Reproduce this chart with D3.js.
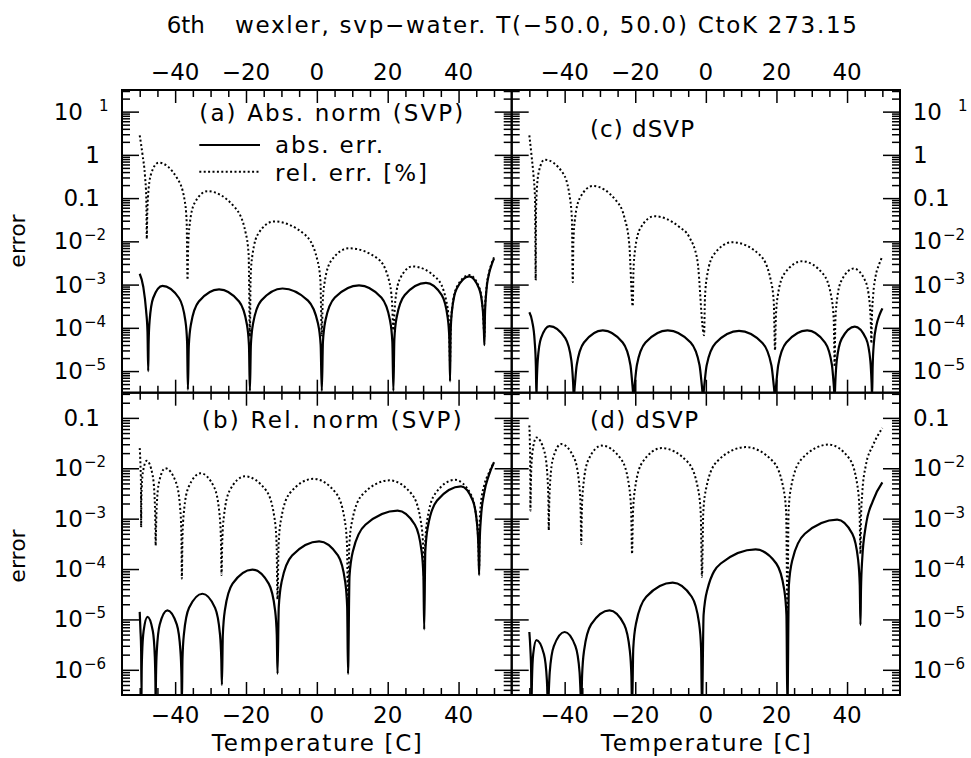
<!DOCTYPE html>
<html>
<head>
<meta charset="utf-8">
<script src="https://cdn.jsdelivr.net/npm/d3@7"></script>
<style>
  body { margin: 0; background: #fff; }
  text { font-family: "DejaVu Sans", sans-serif; fill: #000; }
</style>
</head>
<body>
<div id="chart"></div>
<script>
"use strict";

// === TICKS / LABELS ===
const tempMajor = [-40, -20, 0, 20, 40];
const tempMinor = [-50, -45, -35, -30, -25, -15, -10, -5, 5, 10, 15, 25, 30, 35, 45, 50];
const upperDecades = [1, 0, -1, -2, -3, -4, -5];   // exponents, panels a & c
const lowerDecades = [-1, -2, -3, -4, -5, -6];     // exponents, panels b & d

// === DATA: [temperature C, log10(error)] ===
// (a) Abs. norm (SVP)
const absA = [
  [-50,-2.75],[-49,-3.05],[-48.2,-3.6],[-47.8,-4.1],[-47.6,-5.0],
  [-47.48,-4.33],[-47.2,-3.83],[-46.2,-3.31],[-43.6,-3.03],[-38.92,-3.31],[-37.12,-3.83],[-36.62,-4.33],[-36.4,-5.43],
  [-36.14,-4.41],[-35.52,-3.91],[-33.32,-3.39],[-27.6,-3.11],[-21.95,-3.39],[-19.77,-3.91],[-19.16,-4.41],[-18.9,-5.46],
  [-18.62,-4.39],[-17.98,-3.89],[-15.68,-3.37],[-9.7,-3.09],[-2.49,-3.37],[0.29,-3.89],[1.07,-4.39],[1.4,-5.46],
  [1.72,-4.32],[2.45,-3.82],[5.08,-3.3],[11.9,-3.02],[18.2,-3.3],[20.63,-3.82],[21.31,-4.32],[21.6,-5.46],
  [21.88,-4.26],[22.52,-3.76],[24.82,-3.24],[30.8,-2.96],[35.22,-3.24],[36.92,-3.76],[37.4,-4.26],[37.6,-5.24],
  [37.76,-4.11],[38.14,-3.61],[39.49,-3.09],[43.0,-2.81],[45.8,-3.09],[46.87,-3.61],[47.17,-4.11],[47.3,-4.4],
  [47.45,-3.7],[47.8,-3.2],[48.6,-2.75],[49.3,-2.55],[50,-2.4]
];
const relA = [
  [-50,0.45],[-49.2,0.0],[-48.5,-0.5],[-48.15,-1.0],[-48.0,-1.94],
  [-47.9,-1.48],[-47.67,-0.98],[-46.85,-0.46],[-44.7,-0.18],[-39.37,-0.55],[-37.32,-1.05],[-36.75,-1.55],[-36.5,-2.89],
  [-36.33,-2.14],[-35.94,-1.64],[-34.54,-1.12],[-30.9,-0.84],[-23.1,-1.22],[-20.1,-1.8],[-19.26,-2.3],[-18.9,-4.2],
  [-18.7,-2.84],[-18.22,-2.34],[-16.52,-1.82],[-12.1,-1.54],[-3.33,-1.85],[0.05,-2.4],[1.0,-2.9],[1.4,-4.2],
  [1.63,-3.46],[2.17,-2.96],[4.1,-2.44],[9.1,-2.16],[17.2,-2.4],[20.35,-2.9],[21.22,-3.4],[21.6,-4.06],
  [21.76,-3.88],[22.14,-3.38],[23.49,-2.86],[27.0,-2.58],[33.9,-2.86],[36.54,-3.38],[37.28,-3.88],[37.6,-4.8],
  [37.76,-4.08],[38.14,-3.58],[39.49,-3.06],[43.0,-2.78],[45.8,-3.06],[46.87,-3.58],[47.17,-4.08],[47.3,-4.2],
  [47.45,-3.6],[47.8,-3.15],[48.6,-2.72],[49.3,-2.52],[50,-2.37]
];
// (b) Rel. norm (SVP)
const absB = [
  [-50,-4.85],[-49.8,-5.2],[-49.6,-5.6],[-49.5,-6.5],
  [-49.45,-6.1],[-49.33,-5.7],[-48.9,-5.23],[-47.8,-4.95],[-46.3,-5.23],[-45.73,-5.75],[-45.57,-6.25],[-45.5,-6.7],
  [-45.4,-6.12],[-45.17,-5.62],[-44.35,-5.1],[-42.2,-4.82],[-39.54,-5.1],[-38.51,-5.62],[-38.22,-6.12],[-38.1,-6.7],
  [-37.93,-5.79],[-37.52,-5.29],[-36.07,-4.77],[-32.3,-4.49],[-28.73,-4.77],[-27.35,-5.29],[-26.97,-5.79],[-26.8,-6.3],
  [-26.54,-5.31],[-25.94,-4.81],[-23.79,-4.29],[-18.2,-4.01],[-13.59,-4.29],[-11.81,-4.81],[-11.31,-5.31],[-11.1,-6.08],
  [-10.75,-4.75],[-9.93,-4.25],[-6.99,-3.73],[0.65,-3.45],[5.95,-3.73],[7.99,-4.25],[8.56,-4.75],[8.8,-6.08],
  [9.22,-4.14],[10.2,-3.64],[13.7,-3.12],[22.8,-2.84],[27.68,-3.12],[29.55,-3.64],[30.08,-4.14],[30.3,-5.2],
  [30.61,-3.66],[31.34,-3.16],[33.94,-2.64],[40.7,-2.36],[44.02,-2.64],[45.29,-3.16],[45.65,-3.66],[45.8,-4.12],
  [45.95,-3.5],[46.3,-3.0],[47.2,-2.5],[48.5,-2.15],[50,-1.88]
];
const relB = [
  [-50,-1.6],[-49.8,-1.9],[-49.65,-2.3],[-49.6,-3.17],
  [-49.55,-2.7],[-49.44,-2.4],[-49.04,-2.05],[-48.0,-1.85],[-46.38,-2.13],[-45.75,-2.65],[-45.58,-3.15],[-45.5,-3.53],
  [-45.42,-3.3],[-45.23,-2.8],[-44.56,-2.28],[-42.8,-2.0],[-39.75,-2.28],[-38.57,-2.8],[-38.24,-3.3],[-38.1,-4.19],
  [-37.94,-3.4],[-37.57,-2.9],[-36.25,-2.38],[-32.8,-2.1],[-28.97,-2.38],[-27.49,-2.9],[-27.08,-3.4],[-26.9,-4.12],
  [-26.7,-3.46],[-26.24,-2.96],[-24.59,-2.44],[-20.3,-2.16],[-14.32,-2.44],[-12.02,-2.96],[-11.38,-3.46],[-11.1,-4.6],
  [-10.8,-3.51],[-10.09,-3.01],[-7.57,-2.49],[-1.0,-2.21],[5.37,-2.49],[7.82,-3.01],[8.51,-3.51],[8.8,-4.8],
  [9.15,-3.54],[9.97,-3.04],[12.9,-2.52],[20.5,-2.24],[26.87,-2.52],[29.32,-3.04],[30.01,-3.54],[30.3,-4.3],
  [30.56,-3.53],[31.17,-3.03],[33.35,-2.51],[39.0,-2.23],[43.42,-2.51],[45.12,-3.03],[45.6,-3.53],[45.8,-4.0],
  [45.95,-3.1],[46.3,-2.7],[47.2,-2.35],[48.5,-2.1],[50,-1.88]
];
// (c) dSVP, upper
const absC = [
  [-50,-3.64],[-49.2,-3.85],[-48.5,-4.3],[-48.15,-4.9],[-48.0,-5.6],
  [-47.89,-5.26],[-47.63,-4.76],[-46.7,-4.24],[-44.3,-3.96],[-39.82,-4.24],[-38.09,-4.76],[-37.61,-5.26],[-37.4,-5.6],
  [-37.15,-5.36],[-36.58,-4.86],[-34.53,-4.34],[-29.2,-4.06],[-23.55,-4.34],[-21.37,-4.86],[-20.76,-5.36],[-20.5,-5.6],
  [-20.21,-5.36],[-19.53,-4.86],[-17.1,-4.34],[-10.8,-4.06],[-4.3,-4.34],[-1.8,-4.86],[-1.1,-5.36],[-0.8,-5.6],
  [-0.49,-5.37],[0.22,-4.87],[2.77,-4.35],[9.4,-4.07],[16.03,-4.35],[18.58,-4.87],[19.29,-5.37],[19.6,-5.6],
  [19.87,-5.36],[20.51,-4.86],[22.79,-4.34],[28.7,-4.06],[33.77,-4.34],[35.72,-4.86],[36.27,-5.36],[36.5,-5.6],
  [36.67,-5.27],[37.07,-4.77],[38.5,-4.25],[42.2,-3.97],[45.39,-4.25],[46.61,-4.77],[46.95,-5.27],[47.1,-5.6],
  [47.25,-4.9],[47.6,-4.35],[48.3,-3.95],[49.2,-3.7],[50,-3.55]
];
const relC = [
  [-50,0.45],[-49.4,0.0],[-48.8,-0.5],[-48.4,-1.0],[-48.2,-2.9],
  [-48.12,-1.41],[-47.95,-0.91],[-47.32,-0.39],[-45.7,-0.11],[-40.5,-0.42],[-38.5,-1.0],[-37.94,-1.5],[-37.7,-2.94],
  [-37.53,-2.02],[-37.13,-1.52],[-35.7,-1.0],[-32.0,-0.72],[-25.4,-1.06],[-23.1,-1.44],[-21.7,-2.06],[-20.7,-3.5],
  [-20.52,-2.72],[-20.09,-2.22],[-18.57,-1.7],[-14.6,-1.42],[-7.5,-1.67],[-4.7,-1.9],[-2.4,-2.44],[-0.5,-4.17],
  [-0.26,-3.32],[0.3,-2.82],[2.3,-2.3],[7.5,-2.02],[15.37,-2.32],[18.39,-2.9],[19.24,-3.4],[19.6,-4.52],
  [19.83,-3.76],[20.37,-3.26],[22.3,-2.74],[27.3,-2.46],[33.28,-2.76],[35.58,-3.3],[36.22,-3.8],[36.5,-4.9],
  [36.66,-3.93],[37.04,-3.43],[38.39,-2.91],[41.9,-2.63],[45.15,-2.91],[46.4,-3.43],[46.75,-3.93],[46.9,-4.36],
  [47.05,-3.75],[47.4,-3.25],[48.1,-2.8],[49.0,-2.55],[50,-2.35]
];
// (d) dSVP, lower
const absD = [
  [-50,-5.25],[-49.7,-5.6],[-49.5,-6.0],[-49.4,-6.8],
  [-49.36,-6.6],[-49.26,-6.21],[-48.91,-5.69],[-48.0,-5.41],[-45.86,-5.69],[-45.03,-6.21],[-44.8,-6.6],[-44.7,-6.8],
  [-44.56,-6.55],[-44.23,-6.05],[-43.06,-5.53],[-40.0,-5.25],[-36.95,-5.53],[-35.77,-6.05],[-35.44,-6.55],[-35.3,-6.8],
  [-35.06,-6.12],[-34.5,-5.62],[-32.5,-5.1],[-27.3,-4.82],[-23.14,-5.1],[-21.54,-5.62],[-21.09,-6.12],[-20.9,-6.8],
  [-20.56,-5.57],[-19.75,-5.07],[-16.88,-4.55],[-9.4,-4.27],[-4.0,-4.55],[-1.93,-5.07],[-1.35,-5.57],[-1.1,-6.8],
  [-0.64,-4.91],[0.42,-4.41],[4.22,-3.89],[14.1,-3.61],[19.95,-3.89],[22.2,-4.41],[22.83,-4.91],[23.1,-6.8],
  [23.52,-4.32],[24.51,-3.82],[28.04,-3.3],[37.2,-3.02],[41.49,-3.3],[43.14,-3.82],[43.6,-4.32],[43.8,-5.11],
  [43.95,-4.4],[44.3,-3.8],[45.3,-3.15],[47.3,-2.65],[50,-2.28]
];
const relD = [
  [-50,-1.15],[-49.85,-1.5],[-49.75,-2.0],[-49.7,-2.84],
  [-49.65,-2.69],[-49.53,-2.19],[-49.11,-1.67],[-48.0,-1.39],[-45.73,-1.67],[-44.85,-2.19],[-44.6,-2.69],[-44.5,-3.23],
  [-44.4,-2.82],[-44.15,-2.32],[-43.28,-1.8],[-41.0,-1.52],[-37.3,-1.8],[-35.87,-2.32],[-35.47,-2.82],[-35.3,-3.5],
  [-35.13,-2.85],[-34.72,-2.35],[-33.27,-1.83],[-29.5,-1.55],[-23.91,-1.83],[-21.76,-2.35],[-21.16,-2.85],[-20.9,-3.7],
  [-20.65,-2.9],[-20.06,-2.4],[-17.96,-1.88],[-12.5,-1.6],[-5.09,-1.88],[-2.24,-2.4],[-1.44,-2.9],[-1.1,-4.16],
  [-0.73,-2.88],[0.14,-2.38],[3.24,-1.86],[11.3,-1.58],[18.97,-1.86],[21.92,-2.38],[22.75,-2.88],[23.1,-4.8],
  [23.45,-2.83],[24.27,-2.33],[27.2,-1.81],[34.8,-1.53],[40.65,-1.81],[42.9,-2.33],[43.53,-2.83],[43.8,-3.7],
  [43.95,-3.0],[44.3,-2.5],[45.3,-1.95],[47.3,-1.55],[50,-1.2]
];

// === SVG SETUP ===
const svgWidth = 971, svgHeight = 758;
const plotLeft = 122, plotMid = 511.7, plotRight = 900;
const plotTop = 90, plotSplit = 392.7, plotBottom = 695;

const svg = d3.select("#chart")
  .append("svg")
  .attr("width", svgWidth)
  .attr("height", svgHeight);

// === SCALES ===
const xLeft = d3.scaleLinear().domain([-55, 55]).range([plotLeft, plotMid]);
const xRight = d3.scaleLinear().domain([-55, 55]).range([plotMid, plotRight]);
const yUpper = d3.scaleLog().domain([Math.pow(10, -5.5), Math.pow(10, 1.5)]).range([plotSplit, plotTop]);
const yLower = d3.scaleLog().domain([Math.pow(10, -6.5), Math.pow(10, -0.5)]).range([plotBottom, plotSplit]);

const panels = [
  { id: "a", x: xLeft,  y: yUpper, abs: absA, rel: relA },
  { id: "b", x: xLeft,  y: yLower, abs: absB, rel: relB },
  { id: "c", x: xRight, y: yUpper, abs: absC, rel: relC },
  { id: "d", x: xRight, y: yLower, abs: absD, rel: relD }
];

function minorLog(scale) {
  const [lo, hi] = scale.domain();
  const out = [];
  for (let e = Math.floor(Math.log10(lo)); e <= Math.ceil(Math.log10(hi)); e++) {
    for (let k = 2; k <= 9; k++) {
      const v = k * Math.pow(10, e);
      if (v >= lo && v <= hi) out.push(v);
    }
  }
  return out;
}

function tickAxis(axis, values, size, transform) {
  svg.append("g")
    .attr("transform", transform)
    .call(axis.tickValues(values).tickSizeInner(size).tickSizeOuter(0).tickFormat(""))
    .call(g => g.select(".domain").remove())
    .selectAll("line").attr("stroke", "#000").attr("stroke-width", 1.5);
}

// === CURVES ===
panels.forEach(p => {
  const [x0, x1] = p.x.range();
  const [y0, y1] = p.y.range();
  svg.append("clipPath").attr("id", "clip-" + p.id)
    .append("rect")
    .attr("x", x0).attr("y", y1)
    .attr("width", x1 - x0).attr("height", y0 - y1);

  const line = d3.line()
    .x(d => p.x(d[0]))
    .y(d => p.y(Math.pow(10, d[1])))
    .curve(d3.curveMonotoneX);

  const g = svg.append("g").attr("clip-path", `url(#clip-${p.id})`);
  g.append("path").datum(p.rel)
    .attr("d", line).attr("fill", "none")
    .attr("stroke", "#000").attr("stroke-width", 2)
    .attr("stroke-dasharray", "2,2.4");
  g.append("path").datum(p.abs)
    .attr("d", line).attr("fill", "none")
    .attr("stroke", "#000").attr("stroke-width", 2.2);
});

// === AXES (ticks point inward) ===
panels.forEach(p => {
  const [x0, x1] = p.x.range();
  const [y0, y1] = p.y.range();
  const decades = (p.y === yUpper ? upperDecades : lowerDecades).map(e => Math.pow(10, e));
  const minors = minorLog(p.y);

  tickAxis(d3.axisLeft(p.y), decades, -17, `translate(${x0},0)`);
  tickAxis(d3.axisLeft(p.y), minors, -8, `translate(${x0},0)`);
  tickAxis(d3.axisRight(p.y), decades, -17, `translate(${x1},0)`);
  tickAxis(d3.axisRight(p.y), minors, -8, `translate(${x1},0)`);

  tickAxis(d3.axisTop(p.x), tempMajor, -13, `translate(0,${y1})`);
  tickAxis(d3.axisTop(p.x), tempMinor, -7, `translate(0,${y1})`);
  tickAxis(d3.axisBottom(p.x), tempMajor, -13, `translate(0,${y0})`);
  tickAxis(d3.axisBottom(p.x), tempMinor, -7, `translate(0,${y0})`);

  svg.append("rect")
    .attr("x", x0).attr("y", y1)
    .attr("width", x1 - x0).attr("height", y0 - y1)
    .attr("fill", "none").attr("stroke", "#000").attr("stroke-width", 2);
});

// === TICK LABELS ===
const fmtT = d => (d < 0 ? "\u2212" + (-d) : String(d));
[xLeft, xRight].forEach(xs => {
  tempMajor.forEach(t => {
    svg.append("text").attr("x", xs(t)).attr("y", 80)
      .attr("text-anchor", "middle").attr("font-size", 23).text(fmtT(t));
    svg.append("text").attr("x", xs(t)).attr("y", 723)
      .attr("text-anchor", "middle").attr("font-size", 23).text(fmtT(t));
  });
  svg.append("text").attr("x", xs(0)).attr("y", 751)
    .attr("text-anchor", "middle").attr("font-size", 23)
    .attr("textLength", 210).text("Temperature [C]");
});

function yLabel(scale, e, side) {
  const y = scale(Math.pow(10, e));
  const onLeft = side === "left";
  if (e === 0 || e === -1) {
    svg.append("text")
      .attr("x", onLeft ? 100 : 913).attr("y", y + 8)
      .attr("text-anchor", onLeft ? "end" : "start")
      .attr("font-size", 23).text(e === 0 ? "1" : "0.1");
    return;
  }
  const baseEnd = onLeft ? 83 : 942;
  svg.append("text").attr("x", baseEnd).attr("y", y + 8)
    .attr("text-anchor", "end").attr("font-size", 23).text("10");
  svg.append("text")
    .attr("x", baseEnd + (e === 1 ? 16 : 1)).attr("y", y - 1)
    .attr("font-size", 15)
    .text(e === 1 ? "1" : "\u2212" + (-e));
}
upperDecades.forEach(e => { yLabel(yUpper, e, "left"); yLabel(yUpper, e, "right"); });
lowerDecades.forEach(e => { yLabel(yLower, e, "left"); yLabel(yLower, e, "right"); });

// === AXIS TITLES ===
[241, 556].forEach(cy => {
  svg.append("text")
    .attr("transform", `translate(25,${cy}) rotate(-90)`)
    .attr("text-anchor", "middle").attr("font-size", 22)
    .text("error");
});

// === TITLE ===
svg.append("text").attr("x", 166.7).attr("y", 33).attr("font-size", 23).text("6th");
svg.append("text").attr("x", 235).attr("y", 33).attr("font-size", 23)
  .attr("textLength", 622)
  .text("wexler, svp\u2212water. T(\u221250.0, 50.0) CtoK 273.15");

// === PANEL LABELS & LEGEND ===
svg.append("text").attr("x", 199.3).attr("y", 120.5).attr("font-size", 23)
  .attr("textLength", 264).text("(a) Abs. norm (SVP)");
svg.append("text").attr("x", 201.7).attr("y", 428.3).attr("font-size", 23)
  .attr("textLength", 260).text("(b) Rel. norm (SVP)");
svg.append("text").attr("x", 590).attr("y", 137).attr("font-size", 23)
  .attr("textLength", 104).text("(c) dSVP");
svg.append("text").attr("x", 590).attr("y", 428.3).attr("font-size", 23)
  .attr("textLength", 108).text("(d) dSVP");

svg.append("line").attr("x1", 199.3).attr("x2", 260).attr("y1", 145).attr("y2", 145)
  .attr("stroke", "#000").attr("stroke-width", 2.2);
svg.append("line").attr("x1", 199.3).attr("x2", 260).attr("y1", 171.7).attr("y2", 171.7)
  .attr("stroke", "#000").attr("stroke-width", 2).attr("stroke-dasharray", "2,2.4");
svg.append("text").attr("x", 275).attr("y", 153.3).attr("font-size", 23)
  .attr("textLength", 108).text("abs. err.");
svg.append("text").attr("x", 275).attr("y", 180.5).attr("font-size", 23)
  .attr("textLength", 152).text("rel. err. [%]");
</script>
</body>
</html>
